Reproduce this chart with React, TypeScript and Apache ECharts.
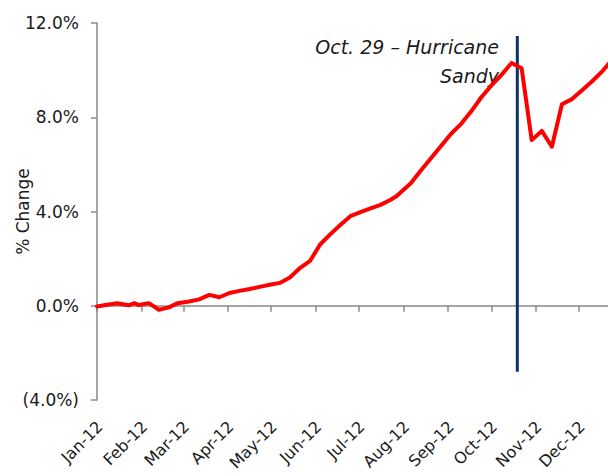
import { useEffect, useRef } from "react";
import * as echarts from "echarts";

// Weekly observations, 2012 (% change since the start of the year)
const obsDates = [
  "2012-01-01", "2012-01-08", "2012-01-15", "2012-01-23", "2012-01-27", "2012-01-30",
  "2012-02-06", "2012-02-13", "2012-02-20", "2012-02-26",
  "2012-03-05", "2012-03-12", "2012-03-19", "2012-03-26",
  "2012-04-02", "2012-04-09", "2012-04-16", "2012-04-23", "2012-04-30",
  "2012-05-07", "2012-05-14", "2012-05-21", "2012-05-28",
  "2012-06-04", "2012-06-11", "2012-06-18", "2012-06-25",
  "2012-07-02", "2012-07-09", "2012-07-16", "2012-07-23", "2012-07-27",
  "2012-08-06", "2012-08-13", "2012-08-20", "2012-08-27",
  "2012-09-03", "2012-09-10", "2012-09-17", "2012-09-24",
  "2012-10-01", "2012-10-08", "2012-10-15", "2012-10-22", "2012-10-29",
  "2012-11-05", "2012-11-12", "2012-11-19", "2012-11-26",
  "2012-12-03", "2012-12-10", "2012-12-17", "2012-12-24",
];
const pctChange = [
  -0.03, 0.04, 0.11, 0.02, 0.11, 0.03,
  0.11, -0.17, -0.07, 0.11,
  0.18, 0.27, 0.46, 0.36,
  0.54, 0.63, 0.71, 0.8, 0.89,
  0.97, 1.2, 1.6, 1.9,
  2.6, 3.03, 3.43, 3.8,
  3.97, 4.13, 4.28, 4.5, 4.65,
  5.2, 5.74, 6.26, 6.78,
  7.3, 7.72, 8.25, 8.85,
  9.35, 9.8, 10.3, 10.08, 7.03,
  7.42, 6.75, 8.55, 8.77,
  9.15, 9.53, 9.95, 10.45,
];

// Month ticks along the date axis
const monthStarts = [
  "2012-01-01", "2012-02-01", "2012-03-01", "2012-04-01", "2012-05-01", "2012-06-01",
  "2012-07-01", "2012-08-01", "2012-09-01", "2012-10-01", "2012-11-01", "2012-12-01",
];
const monthLabels = [
  "Jan-12", "Feb-12", "Mar-12", "Apr-12", "May-12", "Jun-12",
  "Jul-12", "Aug-12", "Sep-12", "Oct-12", "Nov-12", "Dec-12",
];

// Hurricane marker
const stormMarkerDate = "2012-10-19";
const stormMarkerSpan = [11.45, -2.8];
const noteLines = ["Oct. 29 \u2013 Hurricane", "Sandy"];

const Y_MIN = -4;
const Y_MAX = 12;
const Y_STEP = 4;
const X_MAX_DAY = 355;
// month labels sit a couple of days to the right of their ticks
const LABEL_SHIFT_DAYS = 2;

const FONT = '"DejaVu Sans", sans-serif';
const TEXT = "#1a1a1a";
const AXIS = "#898989";

const DAY0 = Date.UTC(2012, 0, 1);
const toDay = (s: string) => {
  const [y, m, d] = s.split("-").map(Number);
  return (Date.UTC(y, m - 1, d) - DAY0) / 86400000;
};

const tickDays = monthStarts.map(toDay);

const fmtPct = (v: number) =>
  v < 0 ? `(${Math.abs(v).toFixed(1)}%)` : `${v.toFixed(1)}%`;

export default function App() {
  const ref = useRef<HTMLDivElement>(null);

  useEffect(() => {
    if (!ref.current) return;
    const chart = echarts.init(ref.current, undefined, { renderer: "svg" });
    const markerDay = toDay(stormMarkerDate);

    chart.setOption({
      animation: false,
      backgroundColor: "#ffffff",
      grid: {
        left: 97,
        top: 23,
        right: 0,
        bottom: 74,
        containLabel: false,
        outerBoundsMode: "none",
      },
      xAxis: [
        {
          type: "value",
          min: 0,
          max: X_MAX_DAY,
          position: "bottom",
          axisLine: { show: true, onZero: true, lineStyle: { color: AXIS, width: 1.5 } },
          axisTick: { show: true, length: 6, customValues: tickDays, lineStyle: { color: AXIS, width: 1.5 } },
          axisLabel: { show: false, customValues: tickDays },
          splitLine: { show: false },
        },
        {
          type: "value",
          min: -LABEL_SHIFT_DAYS,
          max: X_MAX_DAY - LABEL_SHIFT_DAYS,
          position: "bottom",
          axisLine: { show: false, onZero: false },
          axisTick: { show: false },
          axisLabel: {
            customValues: tickDays,
            rotate: 45,
            margin: 24,
            fontSize: 16,
            fontFamily: FONT,
            color: TEXT,
            formatter: (v: number) => {
              const i = tickDays.indexOf(v);
              return i >= 0 ? monthLabels[i] : "";
            },
          },
          splitLine: { show: false },
        },
      ],
      yAxis: {
        type: "value",
        min: Y_MIN,
        max: Y_MAX,
        interval: Y_STEP,
        axisLine: { show: true, onZero: false, lineStyle: { color: AXIS, width: 1.5 } },
        axisTick: { show: true, length: 6, lineStyle: { color: AXIS, width: 1.5 } },
        axisLabel: { margin: 18, fontSize: 17, fontFamily: FONT, color: TEXT, formatter: fmtPct },
        splitLine: { show: false },
        name: "% Change",
        nameLocation: "middle",
        nameGap: 66,
        nameRotate: 90,
        nameMoveOverlap: false,
        nameTextStyle: { fontSize: 17, fontFamily: FONT, color: TEXT },
      },
      graphic: [
        {
          type: "text",
          z: 1,
          x: 499,
          y: 32,
          style: {
            text: noteLines.join("\n"),
            align: "right",
            verticalAlign: "top",
            fontFamily: FONT,
            fontStyle: "italic",
            fontSize: 19,
            lineHeight: 29,
            fill: TEXT,
          },
        },
      ],
      series: [
        {
          name: "Hurricane Sandy",
          type: "line",
          xAxisIndex: 0,
          symbol: "none",
          silent: true,
          data: stormMarkerSpan.map((v) => [markerDay, v]),
          lineStyle: { color: "#0c3366", width: 3 },
        },
        {
          name: "% Change",
          type: "line",
          xAxisIndex: 0,
          symbol: "none",
          data: obsDates.map((d, i) => [toDay(d), pctChange[i]]),
          lineStyle: { color: "#ff0000", width: 4, cap: "round", join: "round" },
        },
      ],
    });

    return () => chart.dispose();
  }, []);

  return (
    <div
      ref={ref}
      style={{ position: "absolute", left: 0, top: 0, width: 608, height: 474, background: "#fff" }}
    />
  );
}
